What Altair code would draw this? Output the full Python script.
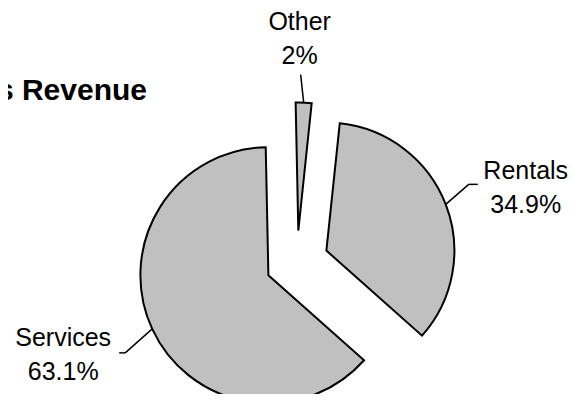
import altair as alt
import pandas as pd

# ---- data ----
categories = ["Other", "Rentals", "Services"]
shares = [2.0, 34.9, 63.1]
title_text = "s Revenue"

# ---- style / layout parameters ----
slice_order = [0, 1, 2]
elbow_dx = [-3, 23, -27]      # leader elbow offset from arc point
elbow_dy = [-28, -20, 24]
tail_dx = [0, 9, -6]          # horizontal tail of leader
label_dx = [-4, 80, -89]      # first-line centre offset from arc point
label_dy = [-81, -33, 9]

W, H = 565, 386
CX, CY = 289, 254            # pie centre inside the view
R = 128                      # radius
D = 31.5                     # explosion distance
START = -0.021               # start angle (radians, clockwise from 12 o'clock)
FONT = "Liberation Sans"

df = pd.DataFrame({
    "category": categories,
    "share": shares,
    "order": slice_order,
    "ex": elbow_dx,
    "ey": elbow_dy,
    "hx": tail_dx,
    "lx": label_dx,
    "ly": label_dy,
})

base = (
    alt.Chart(df)
    .transform_joinaggregate(total="sum(share)")
    .transform_window(cum="sum(share)", sort=[alt.SortField("order")])
    .transform_calculate(
        t1=f"{START} + 2*PI*datum.cum/datum.total",
    )
    .transform_calculate(
        t0="datum.t1 - 2*PI*datum.share/datum.total",
    )
    .transform_calculate(
        mid="(datum.t0 + datum.t1)/2",
    )
    .transform_calculate(
        cx=f"{CX} + {D}*sin(datum.mid)",
        cy=f"{CY} - {D}*cos(datum.mid)",
    )
    .transform_calculate(
        ax=f"datum.cx + {R}*sin(datum.mid)",
        ay=f"datum.cy - {R}*cos(datum.mid)",
    )
    .transform_calculate(
        bx="datum.ax + datum.ex",
        by="datum.ay + datum.ey",
        tx="datum.ax + datum.lx",
        ty="datum.ay + datum.ly",
        label="datum.category + '\\n' + datum.share + '%'",
    )
    .transform_calculate(
        bx2="datum.bx + datum.hx",
    )
)

slices = base.mark_arc(
    outerRadius=R, fill="#c0c0c0", stroke="black", strokeWidth=2, strokeJoin="miter"
).encode(
    theta=alt.Theta("t0:Q", scale=None, stack=False),
    theta2="t1:Q",
    x=alt.X("cx:Q", scale=None),
    y=alt.Y("cy:Q", scale=None),
)

leader1 = base.mark_rule(color="black", strokeWidth=1.5).encode(
    x=alt.X("ax:Q", scale=None),
    y=alt.Y("ay:Q", scale=None),
    x2="bx:Q",
    y2="by:Q",
)

leader2 = base.mark_rule(color="black", strokeWidth=1.5).encode(
    x=alt.X("bx:Q", scale=None),
    y=alt.Y("by:Q", scale=None),
    x2="bx2:Q",
    y2="by:Q",
)

labels = base.mark_text(
    font=FONT, fontSize=25, lineBreak="\n", lineHeight=34,
    align="center", baseline="middle", color="black",
).encode(
    x=alt.X("tx:Q", scale=None),
    y=alt.Y("ty:Q", scale=None),
    text="label:N",
)

title = alt.Chart(pd.DataFrame({"t": [title_text]})).mark_text(
    font=FONT, fontSize=30, fontWeight="bold", align="right",
    baseline="alphabetic", color="black",
).encode(
    x=alt.value(139),
    y=alt.value(92),
    text="t:N",
)

chart = (
    alt.layer(slices, leader1, leader2, labels, title)
    .properties(width=W, height=H, autosize=alt.AutoSizeParams(type="none"), padding=0)
    .configure_view(stroke=None)
)

chart.save("out.html", embed_options={"renderer": "svg", "actions": False})
